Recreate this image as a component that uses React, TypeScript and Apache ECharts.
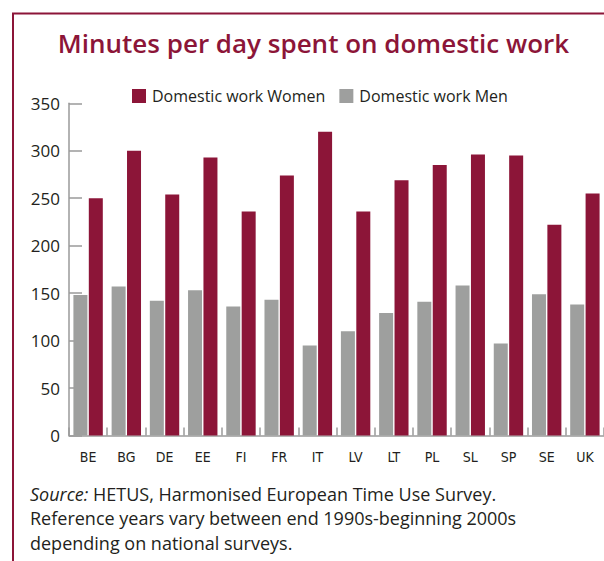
import React, { useEffect, useRef } from "react";
import * as echarts from "echarts";

const countries = ["BE", "BG", "DE", "EE", "FI", "FR", "IT", "LV", "LT", "PL", "SL", "SP", "SE", "UK"];
const womenMinutes = [250, 300, 254, 293, 236, 274, 320, 236, 269, 285, 296, 295, 222, 255];
const menMinutes = [148, 157, 142, 153, 136, 143, 95, 110, 129, 141, 158, 97, 149, 138];
const yTicks = { min: 0, max: 350, interval: 50 };

const titleText = "Minutes per day spent on domestic work";
const womenLabel = "Domestic work Women";
const menLabel = "Domestic work Men";
const sourceLines = [
  "{i|Source:} HETUS, Harmonised European Time Use Survey.",
  "Reference years vary between end 1990s-beginning 2000s",
  "depending on national surveys.",
];

const CRIMSON = "#8c1538";
const GREY = "#9e9f9e";
const AXIS = "#9a9a9a";
const TEXT = "#231f20";
const FONT = "'Open Sans', 'Noto Sans', sans-serif";

export default function App() {
  const ref = useRef<HTMLDivElement>(null);
  useEffect(() => {
    document.body.style.margin = "0";
    const chart = echarts.init(ref.current!, null, { renderer: "svg" });
    chart.setOption({
      animation: false,
      backgroundColor: "#ffffff",
      graphic: [
        {
          type: "rect",
          shape: { x: 13, y: 13.5, width: 800, height: 700 },
          style: { fill: "none", stroke: CRIMSON, lineWidth: 2 },
          silent: true,
        },
        {
          type: "text",
          x: 313.5,
          y: 43,
          style: {
            text: titleText,
            fill: CRIMSON,
            font: `600 26px ${FONT}`,
            textAlign: "center",
            textVerticalAlign: "middle",
          },
        },
        ...sourceLines.map((line, i) => ({
          type: "text",
          x: 30,
          y: 494 + i * 24.4,
          style: {
            text: line,
            fill: TEXT,
            fontSize: 18,
            fontFamily: FONT,
            textAlign: "left",
            textVerticalAlign: "middle",
            rich: {
              i: { fontStyle: "italic", fontSize: 18, fontFamily: FONT, fill: TEXT },
            },
          },
        })),
      ],
      legend: {
        data: [womenLabel, menLabel],
        left: 132,
        top: 88,
        padding: 0,
        itemWidth: 14,
        itemHeight: 14,
        itemGap: 14,
        icon: "rect",
        textStyle: { fontSize: 16, color: TEXT, fontFamily: FONT, padding: [0, 0, 0, 1] },
      },
      grid: { left: 69, right: 0, top: 103.3, bottom: 125.4, containLabel: false },
      xAxis: {
        type: "category",
        data: countries,
        axisLine: { lineStyle: { color: AXIS, width: 1.5 } },
        axisTick: { show: true, inside: true, length: 8, lineStyle: { color: AXIS, width: 1.5 } },
        axisLabel: {
          fontSize: 14,
          color: TEXT,
          fontFamily: "'Liberation Sans Narrow', 'DejaVu Sans Condensed', sans-serif",
          margin: 14,
        },
      },
      yAxis: {
        type: "value",
        min: yTicks.min,
        max: yTicks.max,
        interval: yTicks.interval,
        axisLine: { show: true, lineStyle: { color: AXIS, width: 1.5 } },
        axisTick: { show: true, inside: true, length: 13, lineStyle: { color: AXIS, width: 1.5 } },
        splitLine: { show: false },
        axisLabel: { fontSize: 17, color: TEXT, fontFamily: FONT, margin: 9 },
      },
      series: [
        {
          name: menLabel,
          type: "bar",
          data: menMinutes,
          barWidth: 14,
          barGap: "10%",
          itemStyle: { color: GREY },
        },
        {
          name: womenLabel,
          type: "bar",
          data: womenMinutes,
          barWidth: 14,
          barGap: "10%",
          itemStyle: { color: CRIMSON },
        },
      ],
    });
    return () => chart.dispose();
  }, []);
  return <div ref={ref} style={{ width: 604, height: 561 }} />;
}
